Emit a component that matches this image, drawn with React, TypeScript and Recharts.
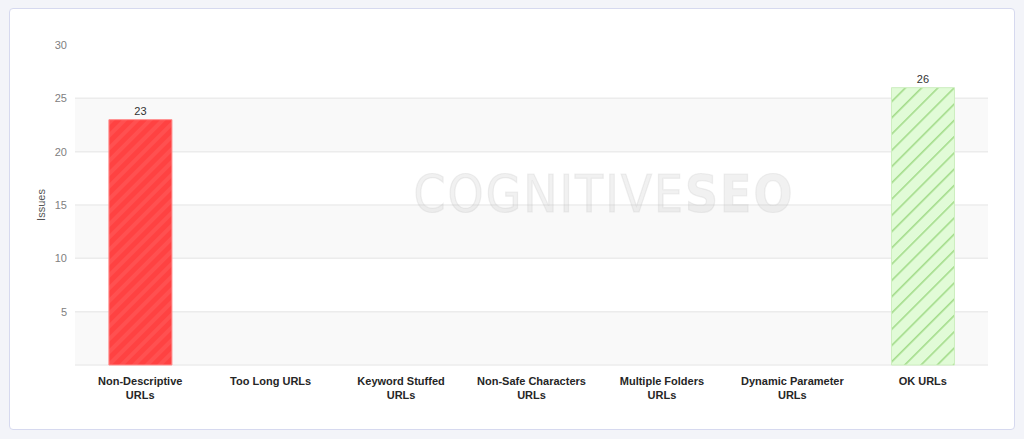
import React from 'react'
import { BarChart, Bar, XAxis, YAxis, CartesianGrid, Cell, LabelList, ReferenceArea } from 'recharts'

// categories shown on the x axis (line breaks as in the original chart)
const categories = [
  'Non-Descriptive\nURLs',
  'Too Long URLs',
  'Keyword Stuffed\nURLs',
  'Non-Safe Characters\nURLs',
  'Multiple Folders\nURLs',
  'Dynamic Parameter\nURLs',
  'OK URLs',
]
const issues = [23, 0, 0, 0, 0, 0, 26]
const yTicks = [5, 10, 15, 20, 25, 30]
const gridValues = [0, 5, 10, 15, 20, 25]
// shaded plot bands (from, to)
const bandFrom = [0, 10, 20]
const bandTo = [5, 15, 25]
const barFills = ['url(#stripeRed)', 'none', 'none', 'none', 'none', 'none', 'url(#stripeGreen)']
const barStrokes = ['#ff8a8a', 'none', 'none', 'none', 'none', 'none', '#cdeebf']

const data = categories.map((name, i) => ({ name, issues: issues[i] }))

const FONT = '"Liberation Sans", Arial, sans-serif'

function CategoryTick({ x, y, payload }: any) {
  const lines = String(payload.value).split('\n')
  return (
    <text x={x} y={y} textAnchor="middle" fontFamily={FONT} fontSize={11} fontWeight={600} fill="#262626">
      {lines.map((line, i) => (
        <tspan key={i} x={x} dy={i === 0 ? 12 : 14}>
          {line}
        </tspan>
      ))}
    </text>
  )
}

export default function App() {
  return (
    <div style={{ position: 'absolute', left: 0, top: 0, width: 1024, height: 439, background: '#f3f4f9' }}>
      <div
        style={{
          position: 'absolute',
          left: 9,
          top: 8,
          width: 1004,
          height: 420,
          background: '#fff',
          border: '1px solid #d6d9ef',
          borderRadius: 4,
        }}
      />
      <div style={{ position: 'absolute', left: 0, top: 0 }}>
        <BarChart
          width={1024}
          height={439}
          data={data}
          margin={{ top: 45, right: 36, left: 25, bottom: 34 }}
          barCategoryGap="26%"
        >
          <defs>
            <pattern id="stripeRed" patternUnits="userSpaceOnUse" width={9} height={9} patternTransform="rotate(45)">
              <rect width={9} height={9} fill="#ff4242" />
              <rect width={4} height={9} fill="#ff5050" />
            </pattern>
            <pattern id="stripeGreen" patternUnits="userSpaceOnUse" width={11.5} height={11.5} patternTransform="rotate(45)">
              <rect width={11.5} height={11.5} fill="#e1fbd7" />
              <rect width={1.6} height={11.5} fill="#a3dc8a" />
            </pattern>
          </defs>
          {bandFrom.map((from, i) => (
            <ReferenceArea
              key={from}
              y1={from}
              y2={bandTo[i]}
              fill="#f9f9f9"
              fillOpacity={1}
              stroke="none"
              zIndex={-150}
            />
          ))}
          <CartesianGrid vertical={false} horizontalValues={gridValues} stroke="#ececec" strokeWidth={1.5} />
          <XAxis
            dataKey="name"
            axisLine={false}
            tickLine={false}
            interval={0}
            height={40}
            tick={<CategoryTick />}
          />
          <YAxis
            domain={[0, 30]}
            ticks={yTicks}
            axisLine={false}
            tickLine={false}
            width={50}
            tick={{ fill: '#808080', stroke: 'none', fontSize: 11, fontFamily: FONT }}
            label={{
              value: 'Issues',
              angle: -90,
              position: 'insideLeft',
              offset: 16,
              style: { textAnchor: 'middle', fill: '#555', fontSize: 11, fontFamily: FONT },
            }}
          />
          <Bar dataKey="issues" isAnimationActive={false}>
            {data.map((d, i) => (
              <Cell key={d.name} fill={barFills[i]} stroke={barStrokes[i]} strokeWidth={1} />
            ))}
            <LabelList
              dataKey="issues"
              position="top"
              formatter={(v: any) => (v ? v : '')}
              style={{ fill: '#333', fontSize: 11, fontFamily: FONT }}
            />
          </Bar>
        </BarChart>
      </div>
      <div
        style={{
          position: 'absolute',
          left: 410,
          top: 168,
          width: 388,
          textAlign: 'center',
          fontFamily: '"DejaVu Sans Condensed", "DejaVu Sans", sans-serif',
          fontSize: 51,
          letterSpacing: 2,
          color: 'rgba(190,190,190,0.22)',
          WebkitTextStroke: '1.2px rgba(190,190,190,0.22)',
          pointerEvents: 'none',
          whiteSpace: 'nowrap',
          lineHeight: '54px',
        }}
      >
        COGNITIVE<span style={{ fontWeight: 'bold' }}>SEO</span>
      </div>
    </div>
  )
}
